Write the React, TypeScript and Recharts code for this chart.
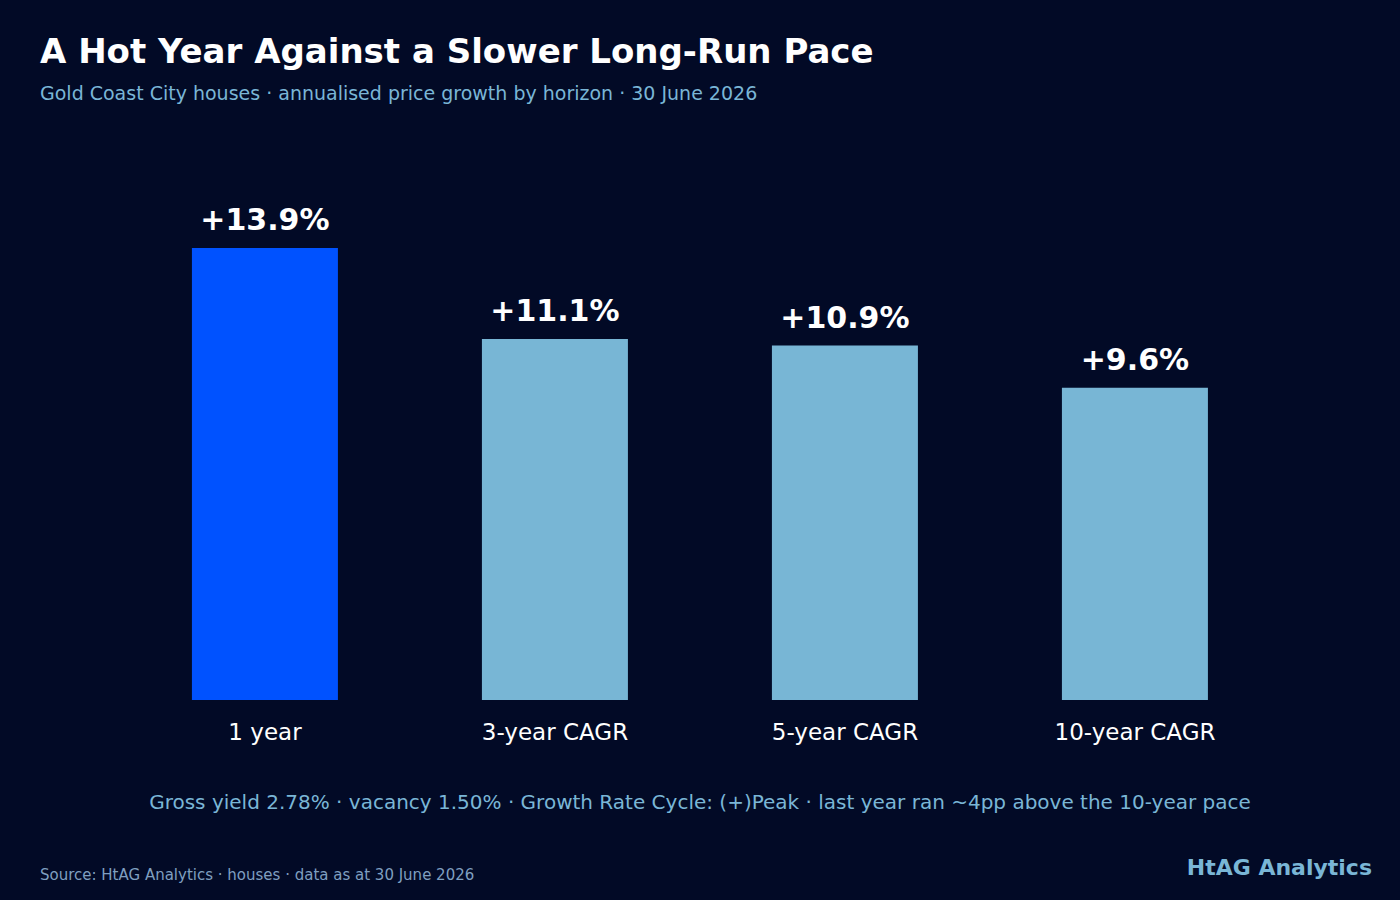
import React from "react";
import { BarChart, Bar, XAxis, YAxis, Cell, LabelList } from "recharts";

const categories = ["1 year", "3-year CAGR", "5-year CAGR", "10-year CAGR"];
const growthValues = [13.9, 11.1, 10.9, 9.6];
const valueLabels = ["+13.9%", "+11.1%", "+10.9%", "+9.6%"];
const highlight = [true, false, false, false];

const data = categories.map((c, i) => ({ name: c, value: growthValues[i], label: valueLabels[i], hi: highlight[i] }));

const BG = "#020a26";
const FONT = "DejaVu Sans, sans-serif";

export default function App() {
  return (
    <div style={{ position: "absolute", left: 0, top: 0, width: 1400, height: 900, background: BG, fontFamily: FONT }}>
      <BarChart
        width={1400}
        height={900}
        data={data}
        margin={{ top: 248, right: 120, bottom: 160, left: 120 }}
        barCategoryGap="24.8%"
      >
        <XAxis
          dataKey="name"
          axisLine={false}
          tickLine={false}
          tickSize={0}
          tickMargin={24}
          height={40}
          tick={{ fill: "#ffffff", fontSize: 23, fontFamily: FONT }}
        />
        <YAxis hide domain={[0, 13.9]} />
        <Bar dataKey="value" isAnimationActive={false}>
          {data.map((d, i) => (
            <Cell key={i} fill={d.hi ? "#0052ff" : "#78b6d5"} />
          ))}
          <LabelList
            dataKey="label"
            position="top"
            offset={18}
            fill="#ffffff"
            style={{ fontSize: 30, fontWeight: "bold", fontFamily: FONT }}
          />
        </Bar>
      </BarChart>
      <svg width={1400} height={900} style={{ position: "absolute", left: 0, top: 0, pointerEvents: "none" }}>
        <text x={40} y={63} fill="#ffffff" fontSize={34} fontWeight="bold" fontFamily={FONT}>
          A Hot Year Against a Slower Long-Run Pace
        </text>
        <text x={40} y={100} fill="#7ab6d6" fontSize={19} fontFamily={FONT}>
          Gold Coast City houses · annualised price growth by horizon · 30 June 2026
        </text>
        <text x={700} y={809} textAnchor="middle" fill="#7ab6d6" fontSize={20} fontFamily={FONT}>
          Gross yield 2.78% · vacancy 1.50% · Growth Rate Cycle: (+)Peak · last year ran ~4pp above the 10-year pace
        </text>
        <text x={40} y={880} fill="#7f9fc0" fontSize={15} fontFamily={FONT}>
          Source: HtAG Analytics · houses · data as at 30 June 2026
        </text>
        <text x={1372} y={875} textAnchor="end" fill="#7ab6d6" fontSize={22} fontWeight="bold" fontFamily={FONT}>
          HtAG Analytics
        </text>
      </svg>
    </div>
  );
}
